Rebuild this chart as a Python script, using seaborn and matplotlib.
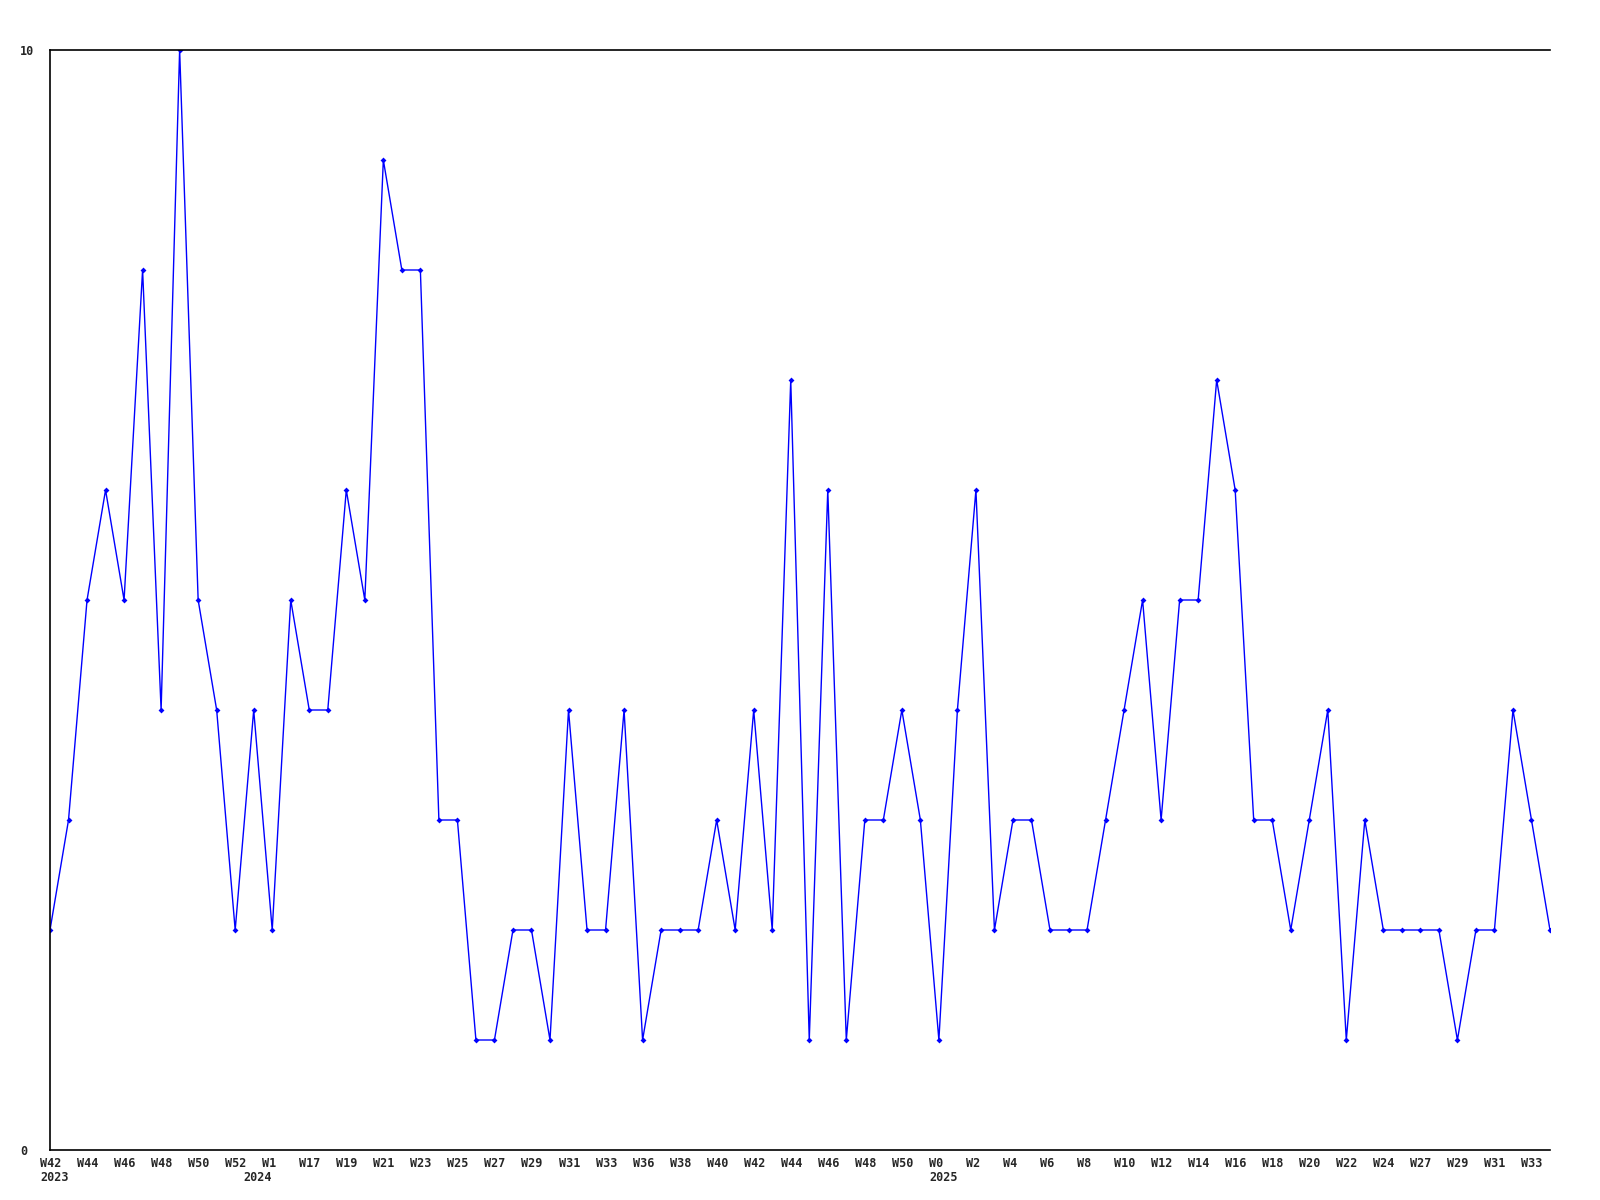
import matplotlib
matplotlib.use("Agg")
import matplotlib.pyplot as plt
import matplotlib.transforms as mtransforms
import pandas as pd
import seaborn as sns

# weekly counts
counts = [2, 3, 5, 6, 5, 8, 4, 10, 5, 4, 2, 4, 2, 5, 4, 4, 6, 5, 9, 8,
          8, 3, 3, 1, 1, 2, 2, 1, 4, 2, 2, 4, 1, 2, 2, 2, 3, 2, 4, 2,
          7, 1, 6, 1, 3, 3, 4, 3, 1, 4, 6, 2, 3, 3, 2, 2, 2, 3, 4, 5,
          3, 5, 5, 7, 6, 3, 3, 2, 3, 4, 1, 3, 2, 2, 2, 2, 1, 2, 2, 4,
          3, 2]

# every second point carries a week label
week_labels = ["W42", "W44", "W46", "W48", "W50", "W52", "W1", "W17", "W19", "W21",
               "W23", "W25", "W27", "W29", "W31", "W33", "W36", "W38", "W40", "W42",
               "W44", "W46", "W48", "W50", "W0", "W2", "W4", "W6", "W8", "W10",
               "W12", "W14", "W16", "W18", "W20", "W22", "W24", "W27", "W29", "W31",
               "W33"]
year_labels = ["2023", "2024", "2025"]
year_points = [0, 11, 48]

df = pd.DataFrame({"idx": range(len(counts)), "count": counts})

sns.set_style("white")
plt.rcParams['font.family'] = ['DejaVu Sans Mono']

fig = plt.figure(figsize=(16, 12), dpi=100)
ax = fig.add_axes([50 / 1600, 50 / 1200, 1500 / 1600, 1100 / 1200])

sns.lineplot(data=df, x="idx", y="count", ax=ax, color="#0000ff", linewidth=1.0,
             marker="D", markersize=3, markeredgewidth=0)

ax.set_xlim(0, len(counts) - 1)
ax.set_ylim(0, 10)
ax.set_xlabel("")
ax.set_ylabel("")

for side in ["left", "bottom", "top"]:
    ax.spines[side].set_visible(True)
    ax.spines[side].set_color("black")
    ax.spines[side].set_linewidth(1.2)
ax.spines["right"].set_visible(False)

fsize = 8.5
shift_x = mtransforms.ScaledTranslation(-10 / 100, 0, fig.dpi_scale_trans)

ax.set_xticks(range(0, len(counts), 2))
ax.set_xticklabels(week_labels, fontsize=fsize, fontweight="bold", ha="left")
ax.tick_params(axis="x", length=0, pad=5)
for lab in ax.get_xticklabels():
    lab.set_transform(lab.get_transform() + shift_x)

ax.set_yticks([0, 10])
ax.set_yticklabels(["0", "10"], fontsize=fsize, fontweight="bold", ha="left")
ax.tick_params(axis="y", length=0, pad=0)
shift_y = mtransforms.ScaledTranslation(-30 / 100, 0, fig.dpi_scale_trans)
for lab in ax.get_yticklabels():
    lab.set_transform(lab.get_transform() + shift_y)

# year labels under the week labels
trans = mtransforms.blended_transform_factory(ax.transData, ax.transAxes)
for yr, p in zip(year_labels, year_points):
    ax.text(p, 0, yr, transform=trans + mtransforms.ScaledTranslation(-10 / 100, -21 / 100, fig.dpi_scale_trans),
            fontsize=fsize, fontweight="bold", ha="left", va="top")

plt.savefig("out.png", dpi=100)
